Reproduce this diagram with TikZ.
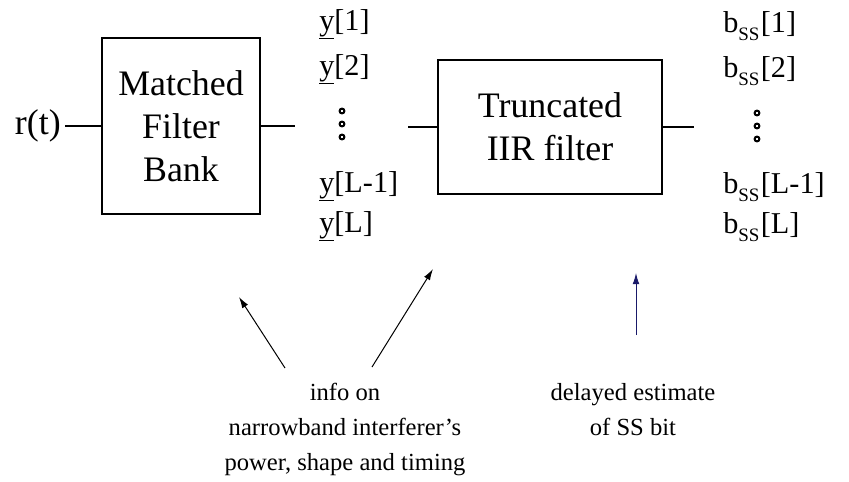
\documentclass[tikz,border=0pt]{standalone}
\usepackage{fontspec}
\setmainfont{Liberation Serif}
\usetikzlibrary{arrows.meta}

\definecolor{estnavy}{RGB}{25,25,105}

\newcommand{\blockfont}{\fontsize{25.5}{30.5}\selectfont}
\newcommand{\seqfont}{\fontsize{21.5}{25}\selectfont}
\newcommand{\notefont}{\fontsize{17.5}{25}\selectfont}
\newcommand{\bss}{b\raisebox{-6pt}{\fontsize{13.5}{14}\selectfont SS}\kern1pt}

\tikzset{
  block/.style={draw, line width=0.6mm, align=center, inner sep=0pt, font=\blockfont},
  wire/.style={line width=0.6mm},
  pointer/.style={line width=0.25mm, -{Latex[length=2.8mm, width=1.7mm]}},
  seqlabel/.style={anchor=base west, inner sep=0pt, font=\seqfont},
  dotring/.style={circle, draw, line width=0.5mm, inner sep=0pt, minimum size=1.2mm},
  note/.style={anchor=north, align=center, inner sep=0pt, font=\notefont},
}

\begin{document}
\begin{tikzpicture}[x=0.025cm, y=-0.025cm]
  \useasboundingbox (0,0) rectangle (849,481);

  % Blocks
  \node[block, minimum width=3.95cm, minimum height=4.4cm] (mf) at (181,126)
    {Matched\\Filter\\Bank};
  \node[block, minimum width=5.6cm, minimum height=3.35cm] (iir) at (550,127)
    {Truncated\\IIR filter};

  % Input
  \node[anchor=east, inner sep=0pt, font=\blockfont] (rt) at (61,126) {r(t)};
  \coordinate (rtout) at (65,126);
  \draw[wire] (rtout) -- (mf.west);

  % Wires between the blocks
  \coordinate (mfout) at (295,126);
  \coordinate (iirin) at (408,127);
  \coordinate (iirout) at (694,127);
  \draw[wire] (mf.east) -- (mfout);
  \draw[wire] (iirin) -- (iir.west);
  \draw[wire] (iir.east) -- (iirout);

  % Filter bank outputs
  \node[seqlabel] (y1)  at (319, 30) {\underline{y}[1]};
  \node[seqlabel] (y2)  at (319, 75) {\underline{y}[2]};
  \node[dotring]  (yd1) at (342,111) {};
  \node[dotring]  (yd2) at (342,124) {};
  \node[dotring]  (yd3) at (342,137) {};
  \node[seqlabel] (yLm) at (319,192) {\underline{y}[L-1]};
  \node[seqlabel] (yL)  at (319,232) {\underline{y}[L]};

  % Bit estimates
  \node[seqlabel] (b1)  at (723, 32) {\bss[1]};
  \node[seqlabel] (b2)  at (723, 77) {\bss[2]};
  \node[dotring]  (bd1) at (757,113) {};
  \node[dotring]  (bd2) at (757,126) {};
  \node[dotring]  (bd3) at (757,139) {};
  \node[seqlabel] (bLm) at (723,193) {\bss[L-1]};
  \node[seqlabel] (bL)  at (723,233) {\bss[L]};

  % Notes
  \node[note] (info) at (345,383)
    {info on\\narrowband interferer's\\power, shape and timing};
  \node[note] (delay) at (633,383) {delayed estimate\\of SS bit};

  % Pointers
  \coordinate (tailA) at (285,368);
  \coordinate (tipA)  at (239,297);
  \coordinate (tailB) at (372,367);
  \coordinate (tipB)  at (433,269);
  \coordinate (tailC) at (636,335);
  \coordinate (tipC)  at (636,273);
  \draw[pointer] (tailA) -- (tipA);
  \draw[pointer] (tailB) -- (tipB);
  \draw[pointer, estnavy] (tailC) -- (tipC);
\end{tikzpicture}
\end{document}
